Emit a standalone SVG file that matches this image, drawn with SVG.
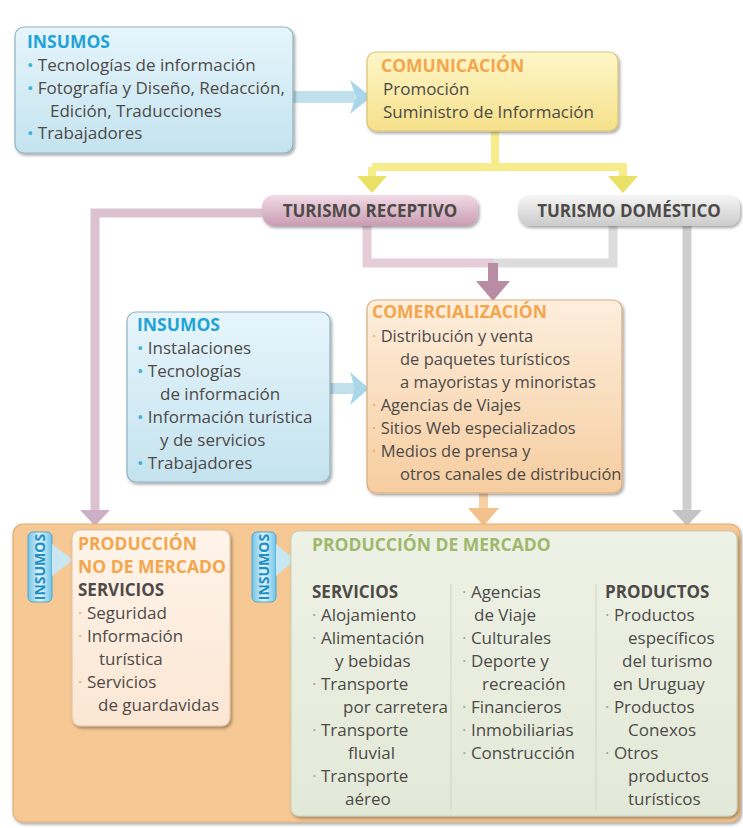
<svg xmlns="http://www.w3.org/2000/svg" width="743" height="828" viewBox="0 0 743 828">
<defs>
<style>
text{font-family:"Open Sans","Noto Sans","Liberation Sans",sans-serif;font-size:17px;fill:#4d4a48}
.t{font-weight:bold;font-size:17.5px}
.blue{fill:#1fa3d6}
.orng{fill:#f3a64c}
.grn{fill:#9fb86d}
.dk{font-weight:bold;fill:#4d4a48}
.bb{fill:#3fb0dc}
.bo{fill:#f3a64c}
.bg{fill:#9aa88a}
.pill{font-weight:bold;font-size:17px;text-anchor:middle}
.tab{font-weight:bold;font-size:14px;fill:#1e8ec6;text-anchor:middle}
.sm{font-size:16.5px}
</style>
<filter id="sh" x="-10%" y="-10%" width="125%" height="130%"><feDropShadow dx="1.5" dy="2" stdDeviation="1.6" flood-color="#000" flood-opacity="0.35"/></filter>
<linearGradient id="gBlue" x1="0" y1="0" x2="0" y2="1"><stop offset="0" stop-color="#e6f5fb"/><stop offset="1" stop-color="#c4e3ef"/></linearGradient>
<linearGradient id="gYel" x1="0" y1="0" x2="0" y2="1"><stop offset="0" stop-color="#fdf6c8"/><stop offset="1" stop-color="#f6e08a"/></linearGradient>
<linearGradient id="gPink" x1="0" y1="0" x2="0" y2="1"><stop offset="0" stop-color="#f1dbe5"/><stop offset="1" stop-color="#c99cb2"/></linearGradient>
<linearGradient id="gGray" x1="0" y1="0" x2="0" y2="1"><stop offset="0" stop-color="#f6f6f6"/><stop offset="1" stop-color="#cbcbcb"/></linearGradient>
<linearGradient id="gCom" x1="0" y1="0" x2="0" y2="1"><stop offset="0" stop-color="#fdeedd"/><stop offset="1" stop-color="#f6cda0"/></linearGradient>
<linearGradient id="gNdm" x1="0" y1="0" x2="0" y2="1"><stop offset="0" stop-color="#fef4ea"/><stop offset="1" stop-color="#fbe6d3"/></linearGradient>
<linearGradient id="gMdm" x1="0" y1="0" x2="0" y2="1"><stop offset="0" stop-color="#eef2e6"/><stop offset="1" stop-color="#e3e9d8"/></linearGradient>
<linearGradient id="gTab" x1="0" y1="0" x2="1" y2="0"><stop offset="0" stop-color="#6fc3e6"/><stop offset="0.5" stop-color="#e4f5fb"/><stop offset="1" stop-color="#6fc3e6"/></linearGradient>
</defs>

<g id="connectors" fill="none" stroke-linecap="butt" stroke-linejoin="miter">
  <!-- insumos 1 -> comunicacion -->
  <rect x="293" y="91" width="62" height="12" fill="#bfe0ec"/>
  <polygon points="350,80 371,97 350,114 356,97" fill="#a9d6e8"/>
  <!-- comunicacion -> turismo -->
  <path d="M495,131 V167 M372,167 H627 M372,167 V178 M623,167 V178" stroke="#f7ec8c" stroke-width="8"/>
  <polygon points="357,176 387,176 372,193" fill="#e9e066"/>
  <polygon points="608,176 638,176 623,193" fill="#e9e066"/>
  <!-- receptivo -> no de mercado -->
  <path d="M262,213 H95 V512" stroke="#dcc2d0" stroke-width="9"/>
  <polygon points="80,510 110,510 95,526" fill="#cdb0c5"/>
  <!-- bracket -> comercializacion -->
  <path d="M367,226 V263 H493" stroke="#e5cdd8" stroke-width="9"/>
  <path d="M613,226 V263 H493" stroke="#dcdcdc" stroke-width="9"/>
  <rect x="488" y="263" width="10" height="20" fill="#b88ca5"/>
  <polygon points="476,281 510,281 493,301" fill="#b88ca5"/>
  <!-- domestico -> mercado -->
  <path d="M687,226 V512" stroke="#cfcfcf" stroke-width="9"/>
  <polygon points="672,510 702,510 687,526" fill="#c4c4c4"/>
  <!-- insumos 2 -> comercializacion -->
  <rect x="330" y="383" width="25" height="11" fill="#bfe0ec"/>
  <polygon points="350,372 369,388.5 350,405 355,388.5" fill="#a9d6e8"/>
  <!-- comercializacion -> mercado -->
  <rect x="479" y="493" width="9" height="17" fill="#f6cfa4"/>
  <polygon points="468,508 499,508 483.5,526" fill="#f3c18c"/>
</g>

<g id="insumos1">
  <rect x="15" y="27" width="278" height="126" rx="9" fill="url(#gBlue)" stroke="#8fb3c2" stroke-width="1.2" filter="url(#sh)"/>
  <text x="27" y="48" class="t blue">INSUMOS</text>
  <text x="27" y="71"><tspan class="bb">• </tspan>Tecnologías de información</text>
  <text x="27" y="94"><tspan class="bb">• </tspan>Fotografía y Diseño, Redacción,</text>
  <text x="50" y="117">Edición, Traducciones</text>
  <text x="27" y="139"><tspan class="bb">• </tspan>Trabajadores</text>
</g>

<g id="comunicacion">
  <rect x="367" y="52" width="251" height="79" rx="9" fill="url(#gYel)" stroke="#d9c276" stroke-width="1.2" filter="url(#sh)"/>
  <text x="381" y="72" class="t orng">COMUNICACIÓN</text>
  <text x="383" y="95">Promoción</text>
  <text x="383" y="118">Suministro de Información</text>
</g>

<g id="turismo-receptivo">
  <rect x="262" y="195" width="216" height="31" rx="12" fill="url(#gPink)" filter="url(#sh)"/>
  <text x="370" y="217" class="pill" fill="#8d7882">TURISMO RECEPTIVO</text>
</g>

<g id="turismo-domestico">
  <rect x="518" y="195" width="222" height="31" rx="12" fill="url(#gGray)" filter="url(#sh)"/>
  <text x="629" y="217" class="pill" fill="#8a8a8a">TURISMO DOMÉSTICO</text>
</g>

<g id="insumos2">
  <rect x="127" y="312" width="203" height="170" rx="9" fill="url(#gBlue)" stroke="#8fb3c2" stroke-width="1.2" filter="url(#sh)"/>
  <text x="137" y="331" class="t blue">INSUMOS</text>
  <text x="137" y="354"><tspan class="bb">• </tspan>Instalaciones</text>
  <text x="137" y="377"><tspan class="bb">• </tspan>Tecnologías</text>
  <text x="160" y="400">de información</text>
  <text x="137" y="423"><tspan class="bb">• </tspan>Información turística</text>
  <text x="160" y="446">y de servicios</text>
  <text x="137" y="469"><tspan class="bb">• </tspan>Trabajadores</text>
</g>

<g id="comercializacion">
  <rect x="367" y="300" width="255" height="193" rx="9" fill="url(#gCom)" stroke="#d8ad7e" stroke-width="1.2" filter="url(#sh)"/>
  <text x="372" y="318" class="t orng">COMERCIALIZACIÓN</text>
  <text x="372" y="342" class="sm"><tspan class="bo">· </tspan>Distribución y venta</text>
  <text x="400" y="365" class="sm">de paquetes turísticos</text>
  <text x="400" y="388" class="sm">a mayoristas y minoristas</text>
  <text x="372" y="411" class="sm"><tspan class="bo">· </tspan>Agencias de Viajes</text>
  <text x="372" y="434" class="sm"><tspan class="bo">· </tspan>Sitios Web especializados</text>
  <text x="372" y="457" class="sm"><tspan class="bo">· </tspan>Medios de prensa y</text>
  <text x="400" y="480" class="sm">otros canales de distribución</text>
</g>

<g id="produccion">
  <rect x="13" y="524" width="727" height="298" rx="10" fill="#f6c893" stroke="#e3ad74" stroke-width="1.2" filter="url(#sh)"/>
</g>

<g id="insumos-tab1">
  <rect x="28" y="532" width="24" height="70" rx="5" fill="url(#gTab)" stroke="#4aa8d2" stroke-width="1"/>
  <text transform="translate(45,567) rotate(-90)" class="tab">INSUMOS</text>
  <polygon points="52,544 73,560 52,576" fill="#c9e7f1"/>
</g>

<g id="no-de-mercado">
  <rect x="72" y="530" width="158" height="196" rx="8" fill="url(#gNdm)" stroke="#e0c0a0" stroke-width="1" filter="url(#sh)"/>
  <text x="78" y="550" class="t orng">PRODUCCIÓN</text>
  <text x="78" y="573" class="t orng">NO DE MERCADO</text>
  <text x="78" y="596" class="dk">SERVICIOS</text>
  <text x="78" y="619"><tspan class="bo">· </tspan>Seguridad</text>
  <text x="78" y="642"><tspan class="bo">· </tspan>Información</text>
  <text x="99" y="665">turística</text>
  <text x="78" y="688"><tspan class="bo">· </tspan>Servicios</text>
  <text x="98" y="711">de guardavidas</text>
</g>

<g id="insumos-tab2">
  <rect x="252" y="532" width="24" height="70" rx="5" fill="url(#gTab)" stroke="#4aa8d2" stroke-width="1"/>
  <text transform="translate(269,567) rotate(-90)" class="tab">INSUMOS</text>
  <polygon points="276,544 295,560 276,576" fill="#c9e7f1"/>
</g>

<g id="de-mercado">
  <rect x="291" y="531" width="446" height="285" rx="8" fill="url(#gMdm)" stroke="#c9d0bd" stroke-width="1" filter="url(#sh)"/>
  <text x="312" y="551" class="t grn">PRODUCCIÓN DE MERCADO</text>
  <path d="M451,584 V810 M596,584 V810" stroke="#d3dac8" stroke-width="1.2"/>
  <text x="312" y="598" class="dk">SERVICIOS</text>
  <text x="312" y="621"><tspan class="bg">· </tspan>Alojamiento</text>
  <text x="312" y="644"><tspan class="bg">· </tspan>Alimentación</text>
  <text x="335" y="667">y bebidas</text>
  <text x="312" y="690"><tspan class="bg">· </tspan>Transporte</text>
  <text x="343" y="713">por carretera</text>
  <text x="312" y="736"><tspan class="bg">· </tspan>Transporte</text>
  <text x="348" y="759">fluvial</text>
  <text x="312" y="782"><tspan class="bg">· </tspan>Transporte</text>
  <text x="345" y="805">aéreo</text>

  <text x="462" y="598"><tspan class="bg">· </tspan>Agencias</text>
  <text x="474" y="621">de Viaje</text>
  <text x="462" y="644"><tspan class="bg">· </tspan>Culturales</text>
  <text x="462" y="667"><tspan class="bg">· </tspan>Deporte y</text>
  <text x="482" y="690">recreación</text>
  <text x="462" y="713"><tspan class="bg">· </tspan>Financieros</text>
  <text x="462" y="736"><tspan class="bg">· </tspan>Inmobiliarias</text>
  <text x="462" y="759"><tspan class="bg">· </tspan> Construcción</text>

  <text x="605" y="598" class="dk">PRODUCTOS</text>
  <text x="605" y="621"><tspan class="bg">· </tspan>Productos</text>
  <text x="628" y="644">específicos</text>
  <text x="622" y="667">del turismo</text>
  <text x="613" y="690">en Uruguay</text>
  <text x="605" y="713"><tspan class="bg">· </tspan>Productos</text>
  <text x="628" y="736">Conexos</text>
  <text x="605" y="759"><tspan class="bg">· </tspan>Otros</text>
  <text x="628" y="782">productos</text>
  <text x="628" y="805">turísticos</text>
</g>
</svg>
